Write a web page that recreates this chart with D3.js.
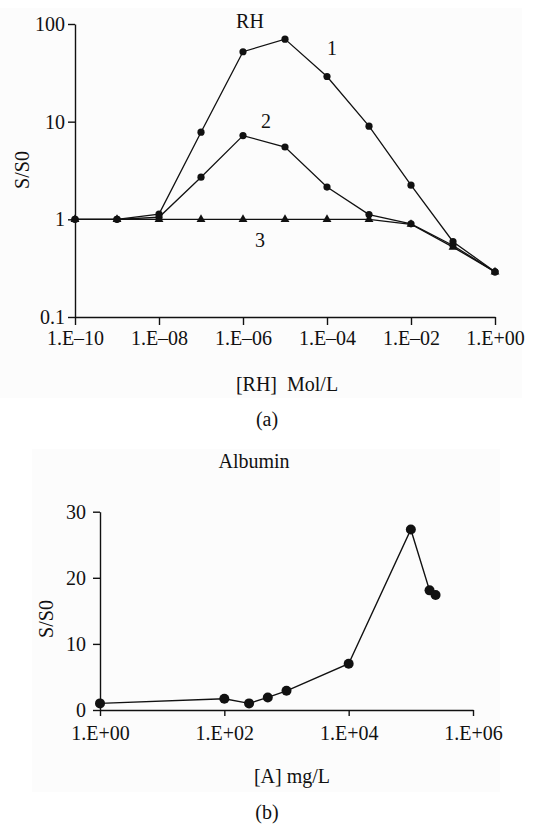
<!DOCTYPE html>
<html>
<head>
<meta charset="utf-8">
<title></title>
<style>
  body { margin: 0; background: #fff; }
  svg { display: block; }
  svg text { font-family: "Liberation Serif", "DejaVu Serif", serif !important; }
</style>
</head>
<body>
<svg width="547" height="825"></svg>
<script src="https://d3js.org/d3.v7.min.js"></script>
<script>
// panel (a): RH concentration vs S/S0, three curves
const rhConc = [1e-10, 1e-9, 1e-8, 1e-7, 1e-6, 1e-5, 1e-4, 1e-3, 1e-2, 1e-1, 1];
const curve1 = [1, 1, 1.13, 7.8, 52, 70, 29, 9.0, 2.24, 0.59, 0.29];
const curve2 = [1, 1, 1.05, 2.7, 7.2, 5.5, 2.14, 1.12, 0.90, 0.54, 0.29];
const curve3 = [1, 1, 1, 1, 1, 1, 1, 1, 0.89, 0.52, 0.29];
const rhXTicks = [1e-10, 1e-8, 1e-6, 1e-4, 1e-2, 1];
const rhYTicks = [0.1, 1, 10, 100];

// panel (b): albumin
const albConc = [1, 100, 250, 500, 1000, 10000, 100000, 200000, 250000];
const albRatio = [1.0, 1.7, 1.0, 1.9, 2.9, 7.0, 27.3, 18.1, 17.4];
const albXTicks = [1, 1e2, 1e4, 1e6];
const albYTicks = [0, 10, 20, 30];

const ink = "#111";
const svg = d3.select("svg");

function sciFmt(v) {
    const e = Math.round(Math.log10(v));
    const s = e < 0 ? "\u2013" : "+";
    return "1.E" + s + String(Math.abs(e)).padStart(2, "0");
}

function styleAxis(g) {
    g.attr("font-size", 20);
    g.select(".domain").attr("stroke", ink).attr("stroke-width", 1.4);
    g.selectAll(".tick line").attr("stroke", ink).attr("stroke-width", 1.4);
    g.selectAll(".tick text").attr("fill", ink).style("font-size", "20px");
}

// faint page panels behind each chart
svg.append("rect").attr("x", 0).attr("y", 8).attr("width", 522).attr("height", 390).attr("fill", "#fcfcfc");
svg.append("rect").attr("x", 32).attr("y", 449).attr("width", 468).attr("height", 343).attr("fill", "#fcfcfc");

// ---------- (a) ----------
const xa = d3.scaleLog().domain([1e-10, 1]).range([75, 495]);
const ya = d3.scaleLog().domain([0.1, 100]).range([317, 24]);

svg.append("g")
    .attr("transform", "translate(0,317)")
    .call(d3.axisBottom(xa).tickValues(rhXTicks).tickFormat(sciFmt).tickSize(8).tickPadding(6).tickSizeOuter(0))
    .call(styleAxis);

svg.append("g")
    .attr("transform", "translate(75,0)")
    .call(d3.axisLeft(ya).tickValues(rhYTicks).tickFormat(d3.format("~g")).tickSize(7).tickPadding(3).tickSizeOuter(0))
    .call(styleAxis);

const lineA = d3.line().x(d => xa(d[0])).y(d => ya(d[1]));
const seriesA = [curve3, curve2, curve1];
seriesA.forEach((vals, i) => {
    const pts = rhConc.map((c, j) => [c, vals[j]]);
    svg.append("path")
        .datum(pts)
        .attr("fill", "none")
        .attr("stroke", ink)
        .attr("stroke-width", 1.3)
        .attr("d", lineA);
    if (i === 0) {
        svg.append("g").selectAll("path")
            .data(pts)
            .join("path")
            .attr("transform", d => `translate(${xa(d[0])},${ya(d[1])})`)
            .attr("d", d3.symbol(d3.symbolTriangle, 34))
            .attr("fill", ink);
    } else {
        svg.append("g").selectAll("circle")
            .data(pts)
            .join("circle")
            .attr("cx", d => xa(d[0]))
            .attr("cy", d => ya(d[1]))
            .attr("r", 3.6)
            .attr("fill", ink);
    }
});

const txt = (x, y, s, size) => svg.append("text")
    .attr("x", x).attr("y", y)
    .attr("text-anchor", "middle")
    .attr("fill", ink)
    .style("font-size", (size || 20) + "px")
    .style("white-space", "pre")
    .text(s);

txt(250, 28, "RH");
txt(332, 55, "1");
txt(266, 128, "2");
txt(260, 247, "3");
txt(287, 391, "[RH]  Mol/L");
txt(267, 426, "(a)");
txt(0, 0, "S/S0").attr("transform", "translate(29,170) rotate(-90)");

// ---------- (b) ----------
const xb = d3.scaleLog().domain([1, 1e6]).range([100, 473]);
const yb = d3.scaleLinear().domain([0, 30]).range([710, 511.7]);

svg.append("g")
    .attr("transform", "translate(0,710)")
    .call(d3.axisBottom(xb).tickValues(albXTicks).tickFormat(sciFmt).tickSize(6).tickPadding(10).tickSizeOuter(0))
    .call(styleAxis);

svg.append("g")
    .attr("transform", "translate(100,0)")
    .call(d3.axisLeft(yb).tickValues(albYTicks).tickSize(7).tickPadding(7).tickSizeOuter(0))
    .call(styleAxis);

const albPts = albConc.map((c, j) => [c, albRatio[j]]);
svg.append("path")
    .datum(albPts)
    .attr("fill", "none")
    .attr("stroke", ink)
    .attr("stroke-width", 1.4)
    .attr("d", d3.line().x(d => xb(d[0])).y(d => yb(d[1])));

svg.append("g").selectAll("circle")
    .data(albPts)
    .join("circle")
    .attr("cx", d => xb(d[0]))
    .attr("cy", d => yb(d[1]))
    .attr("r", 5)
    .attr("fill", ink);

txt(254, 468, "Albumin");
txt(292, 783, "[A] mg/L");
txt(267, 819, "(b)");
txt(0, 0, "S/S0").attr("transform", "translate(53,619) rotate(-90)");
</script>
</body>
</html>
